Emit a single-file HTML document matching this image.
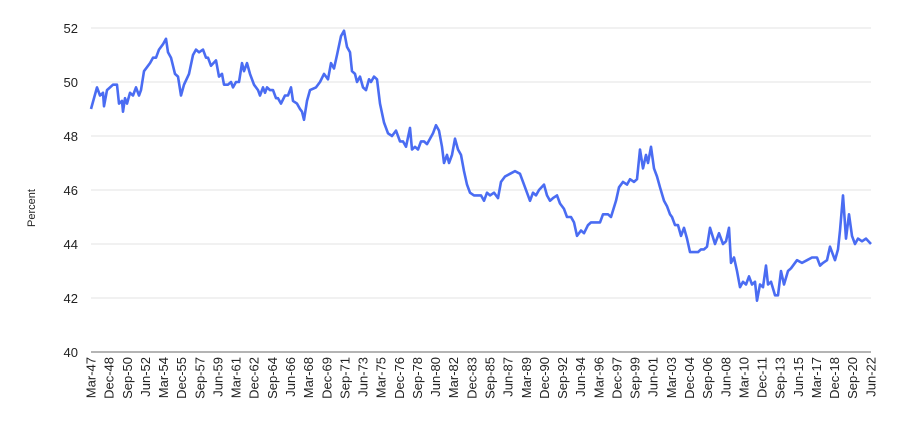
<!DOCTYPE html>
<html><head><meta charset="utf-8"><style>html,body{margin:0;padding:0;background:#fff}svg{display:block}text{font-family:"Liberation Sans",Arial,sans-serif;fill:#222}</style></head><body>
<svg width="906" height="437" viewBox="0 0 906 437">
<g stroke="#e3e3e3" stroke-width="1">
<line x1="91" x2="871" y1="28" y2="28"/><line x1="91" x2="871" y1="82" y2="82"/><line x1="91" x2="871" y1="136" y2="136"/><line x1="91" x2="871" y1="190" y2="190"/><line x1="91" x2="871" y1="244" y2="244"/><line x1="91" x2="871" y1="298" y2="298"/>
</g>
<line x1="91" x2="871" y1="352" y2="352" stroke="#888" stroke-width="1.2"/>
<g font-size="13" text-anchor="end">
<text x="78" y="33">52</text><text x="78" y="87">50</text><text x="78" y="141">48</text><text x="78" y="195">46</text><text x="78" y="249">44</text><text x="78" y="303">42</text><text x="78" y="357">40</text>
</g>
<text font-size="11" text-anchor="middle" transform="translate(35,208) rotate(-90)">Percent</text>
<polyline fill="none" stroke="#4a6cf2" stroke-width="2.6" stroke-linejoin="round" points="
91,109.0 97,87.4 100,95.5 103,92.8 104,106.3 107,90.1 113,84.7 117,84.7 119,103.6 122,100.9 123,111.7 125,98.2 127,103.6 130,92.8 133,95.5 136,87.4 139,95.5 141,90.1 144,71.2 150,63.1 153,57.7 156,57.7 159,49.6 163,44.2 166,38.8 168,52.3 171,57.7 175,73.9 178,76.6 181,95.5 184,84.7 189,73.9 193,55.0 196,49.6 199,52.3 203,49.6 206,57.7 208,57.7 211,65.8 216,60.4 219,76.6 222,73.9 224,84.7 228,84.7 231,82.0 233,87.4 236,82.0 239,82.0 242,63.1 244,71.2 247,63.1 250,73.9 254,84.7 258,90.1 260,95.5 263,87.4 265,92.8 267,87.4 270,90.1 273,90.1 276,98.2 278,98.2 281,103.6 285,95.5 288,95.5 291,87.4 293,100.9 297,103.6 300,109.0 302,111.7 304,119.8 307,100.9 310,90.1 316,87.4 320,82.0 324,73.9 328,79.3 331,63.1 334,68.5 337,55.0 341,36.1 344,30.7 347,46.9 350,52.3 352,71.2 355,73.9 357,82.0 360,76.6 363,87.4 366,90.1 369,79.3 371,82.0 374,76.6 377,79.3 380,103.6 384,122.5 388,133.3 392,136.0 396,130.6 400,141.4 403,141.4 406,146.8 410,127.9 412,149.5 415,146.8 418,149.5 421,141.4 424,141.4 427,144.1 430,138.7 433,133.3 436,125.2 439,130.6 442,146.8 444,163.0 447,154.9 449,163.0 452,154.9 455,138.7 458,149.5 461,154.9 464,171.1 467,184.6 470,192.7 474,195.4 478,195.4 481,195.4 484,200.8 487,192.7 490,195.4 494,192.7 498,198.1 501,181.9 505,176.5 510,173.8 515,171.1 520,173.8 524,184.6 527,192.7 530,200.8 533,192.7 536,195.4 539,190.0 544,184.6 547,195.4 550,200.8 553,198.1 557,195.4 560,203.5 564,208.9 567,217.0 571,217.0 574,222.4 577,235.9 581,230.5 584,233.2 588,225.1 591,222.4 594,222.4 600,222.4 603,214.3 608,214.3 611,217.0 616,200.8 619,187.3 623,181.9 627,184.6 630,179.2 634,181.9 637,179.2 640,149.5 643,168.4 646,154.9 648,163.0 651,146.8 654,168.4 657,176.5 660,187.3 664,200.8 667,206.2 670,214.3 672,217.0 675,225.1 678,225.1 681,235.9 684,227.8 687,238.6 690,252.1 694,252.1 698,252.1 701,249.4 704,249.4 707,246.7 710,227.8 715,244.0 719,233.2 723,244.0 726,241.3 729,227.8 731,262.9 734,257.5 737,271.0 740,287.2 743,281.8 746,284.5 749,276.4 752,284.5 755,281.8 757,300.7 760,284.5 763,287.2 766,265.6 768,284.5 771,281.8 775,295.3 778,295.3 781,271.0 784,284.5 788,271.0 791,268.3 797,260.2 802,262.9 807,260.2 812,257.5 817,257.5 820,265.6 823,262.9 827,260.2 830,246.7 833,254.8 835,260.2 838,249.4 840,230.5 843,195.4 846,238.6 849,214.3 852,235.9 855,244.0 858,238.6 862,241.3 866,238.6 871,244.0"/>
<g font-size="13" text-anchor="end">
<text transform="translate(95.5,357) rotate(-90)">Mar-47</text>
<text transform="translate(113.6,357) rotate(-90)">Dec-48</text>
<text transform="translate(131.8,357) rotate(-90)">Sep-50</text>
<text transform="translate(149.9,357) rotate(-90)">Jun-52</text>
<text transform="translate(168,357) rotate(-90)">Mar-54</text>
<text transform="translate(186.2,357) rotate(-90)">Dec-55</text>
<text transform="translate(204.3,357) rotate(-90)">Sep-57</text>
<text transform="translate(222.5,357) rotate(-90)">Jun-59</text>
<text transform="translate(240.6,357) rotate(-90)">Mar-61</text>
<text transform="translate(258.7,357) rotate(-90)">Dec-62</text>
<text transform="translate(276.9,357) rotate(-90)">Sep-64</text>
<text transform="translate(295,357) rotate(-90)">Jun-66</text>
<text transform="translate(313.1,357) rotate(-90)">Mar-68</text>
<text transform="translate(331.3,357) rotate(-90)">Dec-69</text>
<text transform="translate(349.4,357) rotate(-90)">Sep-71</text>
<text transform="translate(367.5,357) rotate(-90)">Jun-73</text>
<text transform="translate(385.7,357) rotate(-90)">Mar-75</text>
<text transform="translate(403.8,357) rotate(-90)">Dec-76</text>
<text transform="translate(421.9,357) rotate(-90)">Sep-78</text>
<text transform="translate(440.1,357) rotate(-90)">Jun-80</text>
<text transform="translate(458.2,357) rotate(-90)">Mar-82</text>
<text transform="translate(476.4,357) rotate(-90)">Dec-83</text>
<text transform="translate(494.5,357) rotate(-90)">Sep-85</text>
<text transform="translate(512.6,357) rotate(-90)">Jun-87</text>
<text transform="translate(530.8,357) rotate(-90)">Mar-89</text>
<text transform="translate(548.9,357) rotate(-90)">Dec-90</text>
<text transform="translate(567,357) rotate(-90)">Sep-92</text>
<text transform="translate(585.2,357) rotate(-90)">Jun-94</text>
<text transform="translate(603.3,357) rotate(-90)">Mar-96</text>
<text transform="translate(621.4,357) rotate(-90)">Dec-97</text>
<text transform="translate(639.6,357) rotate(-90)">Sep-99</text>
<text transform="translate(657.7,357) rotate(-90)">Jun-01</text>
<text transform="translate(675.9,357) rotate(-90)">Mar-03</text>
<text transform="translate(694,357) rotate(-90)">Dec-04</text>
<text transform="translate(712.1,357) rotate(-90)">Sep-06</text>
<text transform="translate(730.3,357) rotate(-90)">Jun-08</text>
<text transform="translate(748.4,357) rotate(-90)">Mar-10</text>
<text transform="translate(766.5,357) rotate(-90)">Dec-11</text>
<text transform="translate(784.7,357) rotate(-90)">Sep-13</text>
<text transform="translate(802.8,357) rotate(-90)">Jun-15</text>
<text transform="translate(820.9,357) rotate(-90)">Mar-17</text>
<text transform="translate(839.1,357) rotate(-90)">Dec-18</text>
<text transform="translate(857.2,357) rotate(-90)">Sep-20</text>
<text transform="translate(875.3,357) rotate(-90)">Jun-22</text>
</g>
</svg>
</body></html>
